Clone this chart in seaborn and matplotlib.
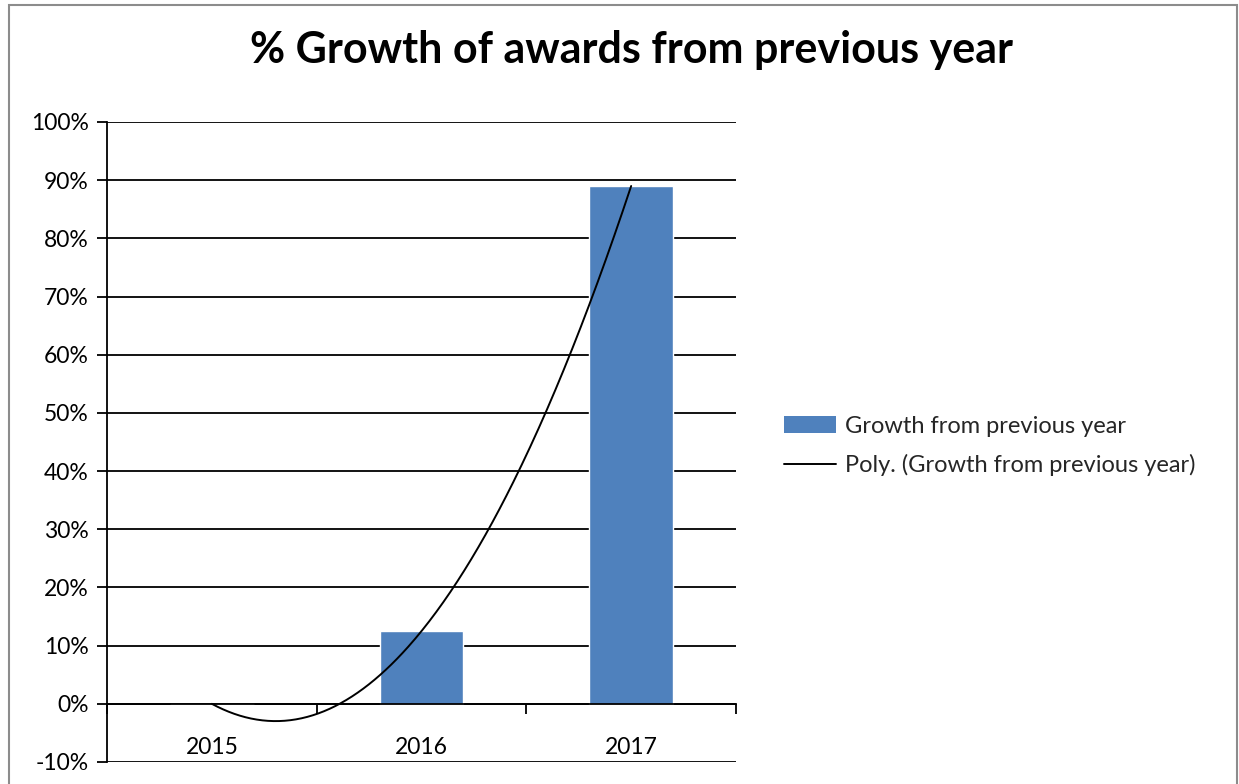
import numpy as np
import pandas as pd
import matplotlib
matplotlib.use("Agg")
import matplotlib.pyplot as plt
import seaborn as sns
from matplotlib.patches import Rectangle
from matplotlib.lines import Line2D
from matplotlib.patches import Patch

years = ["2015", "2016", "2017"]
growth = [0.0, 12.5, 89.0]
y_ticks = [-10, 0, 10, 20, 30, 40, 50, 60, 70, 80, 90, 100]
title = "% Growth of awards from previous year"
bar_label = "Growth from previous year"
trend_label = "Poly. (Growth from previous year)"

sns.set_theme(style="white")
plt.rcParams["font.family"] = ["Lato", "DejaVu Sans"]

df = pd.DataFrame({"year": years, "growth": growth})

fig = plt.figure(figsize=(12.39, 7.84), dpi=100)
ax = fig.add_axes([107 / 1239, 1 - 762 / 784, (736 - 107) / 1239, (762 - 122) / 784])

sns.barplot(data=df, x="year", y="growth", order=years, color="#4F81BD",
            saturation=1, width=0.4, ax=ax, zorder=2)

# polynomial (order 2) trendline like Excel
xs = np.arange(len(years))
coef = np.polyfit(xs, growth, 2)
xx = np.linspace(0, len(years) - 1, 300)
ax.plot(xx, np.polyval(coef, xx), color="black", lw=1.4, zorder=3)

ax.set_xlim(-0.5, len(years) - 0.5)
ax.set_ylim(-10, 100)
ax.set_yticks(y_ticks)
ax.set_yticklabels([f"{t}%" for t in y_ticks])
ax.set_axisbelow(True)
ax.yaxis.grid(False)
ax.xaxis.grid(False)
for t in y_ticks:
    ax.axhline(t, color="black", lw=1.3, zorder=1)

for s in ["top", "right"]:
    ax.spines[s].set_visible(False)
ax.spines["left"].set_color("black")
ax.spines["left"].set_linewidth(1.3)
ax.spines["bottom"].set_position(("data", 0))
ax.spines["bottom"].set_color("black")
ax.spines["bottom"].set_linewidth(1.3)

ax.set_xticks([-0.5, 0.5, 1.5, 2.5])
ax.set_xticklabels([])
ax.set_xticks(xs, minor=True)
ax.set_xticklabels(years, minor=True)
ax.tick_params(axis="x", which="major", direction="out", length=7, width=1.3,
               color="black", bottom=True)
ax.tick_params(axis="x", which="minor", length=0, pad=24, labelsize=16.5,
               labelcolor="black")
ax.tick_params(axis="y", direction="out", length=7, width=1.3, color="black",
               left=True, labelsize=16.5, labelcolor="black", pad=6)
ax.set_xlabel("")
ax.set_ylabel("")

fig.text(632 / 1239, 1 - 50 / 784, title, ha="center", va="center",
         fontsize=31, fontweight="bold", color="black")

handles = [Patch(facecolor="#4F81BD", edgecolor="none"),
           Line2D([0], [0], color="black", lw=1.4)]
fig.legend(handles, [bar_label, trend_label], loc="center left",
           bbox_to_anchor=(784 / 1239, 1 - 446 / 784), frameon=False,
           fontsize=17, handlelength=2.2, handleheight=0.7,
           handletextpad=0.38, labelspacing=0.72, borderpad=0,
           borderaxespad=0)

fig.add_artist(Rectangle((9 / 1239, -0.01), (1237 - 9) / 1239, 1 - 5 / 784 + 0.01,
                         transform=fig.transFigure, fill=False,
                         edgecolor="#8c8c8c", lw=1.5))

fig.savefig("out.png", dpi=100, facecolor="white")
